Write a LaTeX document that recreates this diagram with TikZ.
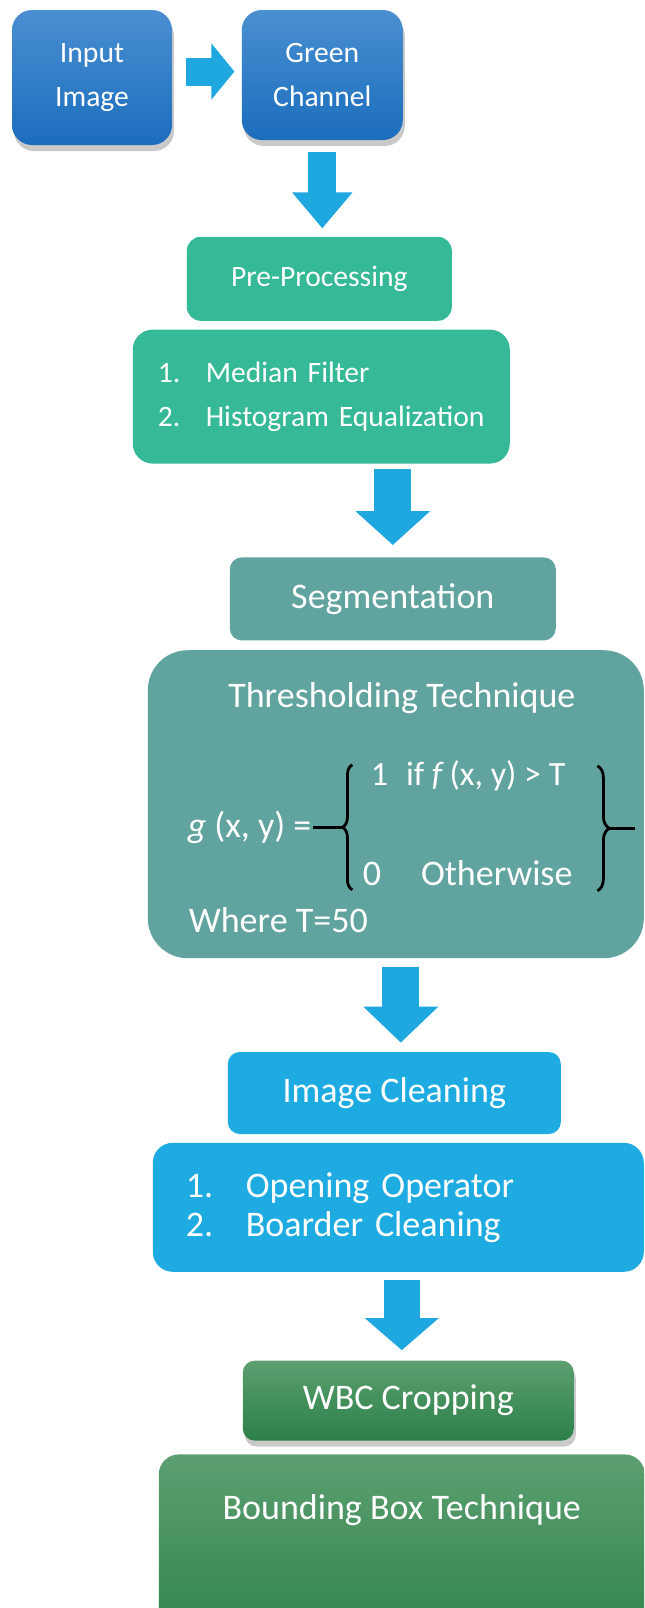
\documentclass[tikz,border=0pt]{standalone}
\usepackage{fontspec}
\setmainfont{Carlito}
\usetikzlibrary{positioning,arrows.meta,calc,shadows,decorations.pathreplacing}

\definecolor{topblueA}{HTML}{4A8FD1}
\definecolor{topblueB}{HTML}{1B6DBD}
\definecolor{arrowblue}{HTML}{1FA8E0}
\definecolor{preteal}{HTML}{35B996}
\definecolor{segteal}{HTML}{60A39F}
\definecolor{cleanblue}{HTML}{1DABE2}
\definecolor{cropgreenA}{HTML}{5C9F70}
\definecolor{cropgreenB}{HTML}{2B8048}

\begin{document}
\begin{tikzpicture}[
    x=0.5pt, y=-0.5pt,
    base/.style={
        rectangle,
        rounded corners=6pt,
        text=white,
        align=center,
        inner sep=0pt
    },
    small/.style={font=\fontsize{14.8}{22}\selectfont},
    large/.style={font=\fontsize{18}{19.5}\selectfont},
    softshadow/.style={drop shadow={shadow xshift=1pt, shadow yshift=-3pt, opacity=0.3, fill=black!70}},
    topbox/.style={base, small, softshadow, rounded corners=10pt,
        top color=topblueA, bottom color=topblueB},
    prebox/.style={base, small, fill=preteal},
    segbox/.style={base, large, fill=segteal},
    cleanbox/.style={base, large, fill=cleanblue},
    cropbox/.style={base, large, softshadow,
        top color=cropgreenA, bottom color=cropgreenB},
    inbox/.style={text=white, inner sep=0pt},
    brace/.style={decorate, line width=1.4pt},
    blockarrow/.style={draw=arrowblue}
]

\clip (0,0) rectangle (644,1608);

% top row
\node[topbox, minimum width=80pt, minimum height=67.5pt] (input) at (92,77.5) {Input\\Image};
\node[topbox, minimum width=80.5pt, minimum height=65pt, right=34.5pt of input, yshift=1.25pt] (green) {Green\\Channel};

% pre-processing
\node[prebox, minimum width=132.5pt, minimum height=42pt, rounded corners=7pt, below=48pt of green, xshift=-1.5pt] (pre) {Pre-Processing};
\node[prebox, minimum width=188.5pt, minimum height=67pt, rounded corners=10pt, text width=163.5pt, align=left, below=4pt of pre, xshift=1pt] (prelist)
    {\makebox[24pt][l]{1.}Median Filter\\\makebox[24pt][l]{2.}Histogram Equalization};

% segmentation
\node[segbox, minimum width=163pt, minimum height=41.5pt, below=46.5pt of prelist, xshift=35.75pt] (seg) {Segmentation};
\node[segbox, minimum width=248pt, minimum height=154pt, rounded corners=20pt, below=4.5pt of seg, xshift=1.5pt] (thr) {};

\node[inbox, large] (thrtitle) at ($(thr.north west)+(254.5,48)$) {Thresholding Technique};
\node[inbox, large, anchor=west] (glhs) at ($(thr.north west)+(40,178)$) {\textit{g} (x, y) =};
\node[inbox, font=\fontsize{17}{19}\selectfont, anchor=west] (caseone) at ($(thr.north west)+(223,126)$) {1\hspace{9pt}if \textit{f}\,(x, y) > T};
\node[inbox, large, anchor=west] (casetwo) at ($(thr.north west)+(215,223)$) {0\hspace{20pt}Otherwise};
\node[inbox, large, anchor=west] (where) at ($(thr.north west)+(41,270)$) {Where T=50};
\draw[brace, decoration={brace, amplitude=5pt}] ($(thr.north west)+(205,240)$) -- ($(thr.north west)+(205,115)$);
\draw[brace, decoration={brace, amplitude=6pt}] ($(thr.north west)+(450,116)$) -- ($(thr.north west)+(450,241)$);
\draw[line width=1.4pt] ($(thr.north west)+(166,177.5)$) -- ($(thr.north west)+(196,177.5)$);
\draw[line width=1.4pt] ($(thr.north west)+(461,178.5)$) -- ($(thr.north west)+(488,178.5)$);

% image cleaning
\node[cleanbox, minimum width=166.5pt, minimum height=41pt, below=46.5pt of thr, xshift=-0.75pt] (clean) {Image Cleaning};
\node[cleanbox, minimum width=245.5pt, minimum height=64.5pt, rounded corners=10pt, text width=212.5pt, align=left, below=4pt of clean, xshift=2pt] (cleanlist)
    {\makebox[30pt][l]{1.}Opening Operator\\\makebox[30pt][l]{2.}Boarder Cleaning};

% cropping
\node[cropbox, minimum width=165.5pt, minimum height=40pt, below=44pt of cleanlist, xshift=5pt] (wbc) {WBC Cropping};
\node[cropbox, minimum width=243pt, text height=32.75pt, text depth=73.25pt, rounded corners=10pt, below=6.5pt of wbc, xshift=-3.25pt] (bbox) {Bounding Box Technique};

% arrows
\draw[blockarrow, line width=14pt, -{Triangle[width=27.5pt,length=11.5pt]}, shorten <=7pt, shorten >=3.5pt]
    ([yshift=3pt]input.east) -- ([yshift=3pt]input.east -| green.west);
\draw[blockarrow, line width=14pt, -{Triangle[width=29pt,length=18pt]}, shorten <=6pt, shorten >=4pt]
    (green.south) -- (green.south |- pre.north);
\draw[blockarrow, line width=18.5pt, -{Triangle[width=36.5pt,length=17pt]}, shorten <=2.5pt, shorten >=6pt]
    (prelist.south -| seg.north) -- (seg.north);
\draw[blockarrow, line width=18.5pt, -{Triangle[width=36.5pt,length=18pt]}, shorten <=4pt, shorten >=4.5pt]
    ([xshift=2.5pt]thr.south) -- ([xshift=2.5pt]thr.south |- clean.north);
\draw[blockarrow, line width=18pt, -{Triangle[width=36pt,length=16pt]}, shorten <=4pt, shorten >=5pt]
    ([xshift=1.75pt]cleanlist.south) -- ([xshift=1.75pt]cleanlist.south |- wbc.north);

\end{tikzpicture}
\end{document}
